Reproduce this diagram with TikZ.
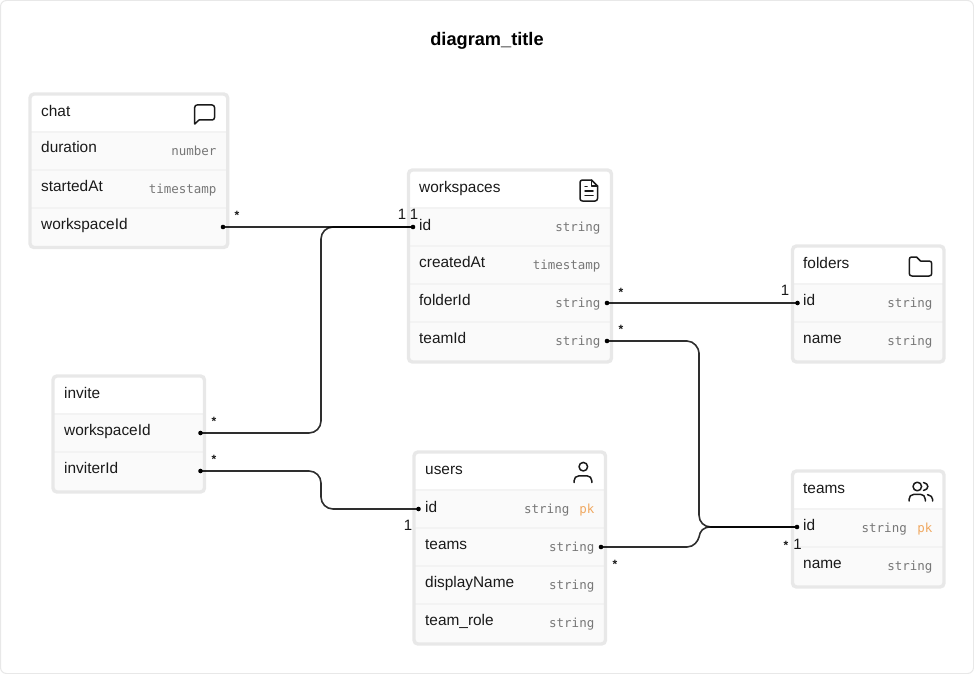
\documentclass[tikz,border=0pt]{standalone}
\usepackage{fontspec}
\setmainfont{Liberation Sans}
\newfontfamily\typefont{DejaVu Sans Mono}
\definecolor{frameC}{HTML}{E8E8E8}
\definecolor{rowC}{HTML}{FAFAFA}
\definecolor{sepC}{HTML}{F3F3F3}
\definecolor{typeC}{HTML}{777777}
\definecolor{pkC}{HTML}{F0A860}
\definecolor{inkC}{HTML}{1A1A1A}
\tikzset{
  ebox/.style={draw=frameC,line width=3.4pt,rounded corners=4pt,inner sep=0pt,fill=none},
  nametext/.style={anchor=base west,inner sep=0pt,font=\fontsize{15.4}{17}\selectfont,text=inkC},
  typetext/.style={anchor=base east,inner sep=0pt,font=\typefont\fontsize{12.5}{14}\selectfont,text=typeC},
  pktext/.style={typetext,text=pkC},
  titletext/.style={anchor=base,inner sep=0pt,font=\bfseries\fontsize{18.2}{20}\selectfont,text=black},
  cardone/.style={anchor=base,inner sep=0pt,font=\fontsize{15}{16}\selectfont,text=inkC},
  cardstar/.style={anchor=base,inner sep=0pt,font=\bfseries\fontsize{12}{14}\selectfont,text=inkC},
  port/.style={circle,fill=black,inner sep=0pt,minimum size=4.6pt},
  link/.style={draw=black,draw opacity=0.82,line width=1.6pt,rounded corners=12pt},
  iconline/.style={draw=inkC,line width=1.5pt,line cap=round,line join=round},
}
% name, x1, y1, x2, y2, header bottom, list of separators
\newcommand{\entitybox}[7]{%
  \fill[rowC,rounded corners=4pt] (#2,#3) rectangle (#4,#5);
  \fill[white] (#2,#3) rectangle (#4,#6);
  \foreach \sy in {#7}{\draw[sepC,line width=1.6pt] (#2,\sy) -- (#4,\sy);}
  \pgfmathsetmacro{\bw}{#4-#2}\pgfmathsetmacro{\bh}{#5-#3}
  \pgfmathsetmacro{\bx}{(#4+#2)/2}\pgfmathsetmacro{\by}{(#5+#3)/2}
  \node[ebox,minimum width=\bw pt,minimum height=\bh pt] (#1) at (\bx,\by) {};
}
% id, x, baseline, text
\newcommand{\nm}[4]{\node[nametext] (#1) at (#2,#3) {#4};}
\newcommand{\ty}[4]{\node[typetext] (#1) at (#2,#3) {#4};}
\begin{document}
\begin{tikzpicture}[x=1pt,y=-1pt]
\useasboundingbox (0,0) rectangle (974,674);
\fill[white] (0,0) rectangle (974,674);
\draw[frameC,line width=1pt,rounded corners=6pt] (0.5,0.5) rectangle (973.5,673.5);
\node[titletext] (title) at (487,46) {diagram\_title};

\entitybox{chat}{30}{94}{227.7}{247.5}{132}{132,170,208}
\entitybox{workspaces}{408.5}{170}{611.5}{362}{208}{208,246,284,322}
\entitybox{folders}{792.5}{246}{944}{362}{284}{284,322}
\entitybox{teams}{792.5}{471}{944}{587}{509}{509,547}
\entitybox{users}{414}{452}{605.5}{644}{490}{490,528,566,604}
\entitybox{invite}{53}{376}{204.5}{492}{414}{414,452}

% chat
\nm{chat-head}{41}{116.5}{chat}
\nm{chat-duration}{41}{153}{duration}\ty{chat-duration-t}{216.7}{155}{number}
\nm{chat-startedAt}{41}{191}{startedAt}\ty{chat-startedAt-t}{216.7}{193}{timestamp}
\nm{chat-workspaceId}{41}{229}{workspaceId}
% workspaces
\nm{ws-head}{419}{192}{workspaces}
\nm{ws-id}{419}{230}{id}\ty{ws-id-t}{600.7}{231.5}{string}
\nm{ws-createdAt}{419}{267}{createdAt}\ty{ws-createdAt-t}{600.7}{269.5}{timestamp}
\nm{ws-folderId}{419}{305}{folderId}\ty{ws-folderId-t}{600.7}{307.5}{string}
\nm{ws-teamId}{419}{343}{teamId}\ty{ws-teamId-t}{600.7}{345.5}{string}
% folders
\nm{fo-head}{803}{268}{folders}
\nm{fo-id}{803}{305}{id}\ty{fo-id-t}{932.7}{307.5}{string}
\nm{fo-name}{803}{343}{name}\ty{fo-name-t}{932.7}{345.5}{string}
% teams
\nm{te-head}{803}{493}{teams}
\nm{te-id}{803}{530}{id}\ty{te-id-t}{907}{532}{string}\node[pktext] (te-id-pk) at (932.7,532) {pk};
\nm{te-name}{803}{568}{name}\ty{te-name-t}{932.7}{570}{string}
% users
\nm{us-head}{425}{474}{users}
\nm{us-id}{425}{512}{id}\ty{us-id-t}{569.5}{513.5}{string}\node[pktext] (us-id-pk) at (594.5,513.5) {pk};
\nm{us-teams}{425}{549}{teams}\ty{us-teams-t}{594.5}{551.5}{string}
\nm{us-displayName}{425}{587}{displayName}\ty{us-displayName-t}{594.5}{589.5}{string}
\nm{us-team-role}{425}{625}{team\_role}\ty{us-team-role-t}{594.5}{627.5}{string}
% invite
\nm{in-head}{64}{398}{invite}
\nm{in-workspaceId}{64}{435}{workspaceId}
\nm{in-inviterId}{64}{473}{inviterId}

% ports
\node[port] (pChat) at (223,227) {};
\node[port] (pWsId) at (413,227) {};
\node[port] (pWsFolder) at (607,303) {};
\node[port] (pWsTeam) at (607,341) {};
\node[port] (pFoId) at (797.5,303) {};
\node[port] (pTeId) at (797,527) {};
\node[port] (pUsId) at (418.5,509) {};
\node[port] (pUsTeams) at (601,547) {};
\node[port] (pInWs) at (200.5,433) {};
\node[port] (pInInv) at (200.5,471) {};
\coordinate (spineL) at (321,330);
\coordinate (spineR) at (699,430);
\coordinate (join) at (711,527);
\coordinate (midS) at (699,537);

% connectors
\draw[link] (pChat.center) -- (pWsId.center);
\draw[link] (pInWs.center) -| (spineL) |- (pWsId.center);
\draw[link] (pInInv.center) -| (spineL |- pUsId) -- (pUsId.center);
\draw[link] (pWsFolder.center) -- (pFoId.center);
\draw[link,rounded corners=0pt] (pWsTeam.center) -- ([xshift=-12pt]spineR |- pWsTeam)
   .. controls ([xshift=-5pt]spineR |- pWsTeam) and ([yshift=-7pt]spineR |- pWsTeam) .. ([yshift=-12pt]spineR |- pWsTeam)
   -- ([yshift=12pt]spineR |- join)
   .. controls ([yshift=5pt]spineR |- join) and ([xshift=-7pt]join) .. (join) -- (pTeId.center);
\draw[link,rounded corners=0pt] (pUsTeams.center) -- ([xshift=-12pt]spineR |- pUsTeams)
   .. controls ([xshift=-5pt]spineR |- pUsTeams) and ([xshift=-1pt,yshift=-4pt]midS) .. (midS)
   .. controls ([xshift=1pt,yshift=6pt]midS) and ([xshift=-8pt]join) .. (join) -- (pTeId.center);

% cardinalities
\node[cardstar] (c1) at (237,219.5) {*};
\node[cardone] (c2) at (402,219) {1};
\node[cardone] (c3) at (414,219) {1};
\node[cardstar] (c4) at (214,425) {*};
\node[cardstar] (c5) at (214,463) {*};
\node[cardone] (c6) at (408,530) {1};
\node[cardstar] (c7) at (621,296) {*};
\node[cardstar] (c8) at (621,333) {*};
\node[cardone] (c9) at (785,295) {1};
\node[cardstar] (c10) at (615,568) {*};
\node[cardstar] (c11) at (786,549) {*};
\node[cardone] (c12) at (797.5,549) {1};

% icons
\draw[iconline] (197,105) -- (212,105) .. controls (213.5,105) and (214.5,106) .. (214.5,107.5)
  -- (214.5,117.5) .. controls (214.5,119) and (213.5,120) .. (212,120) -- (199,120) -- (194.7,124)
  -- (194.7,107.5) .. controls (194.7,106) and (195.7,105) .. (197,105) -- cycle;
\draw[iconline] (582.5,180) -- (591.5,180) -- (597.5,186) -- (597.5,198.5)
  .. controls (597.5,200) and (596.5,201) .. (595,201) -- (582.5,201)
  .. controls (581,201) and (580,200) .. (580,198.5) -- (580,182.5) .. controls (580,181) and (581,180) .. (582.5,180) -- cycle;
\draw[iconline] (591.5,180) -- (591.5,186) -- (597.5,186);
\draw[iconline] (585,186.5) -- (587,186.5) (585,191) -- (593,191) (585,195.5) -- (593,195.5);
\draw[iconline] (911.5,257) -- (916.5,257) -- (920.5,261) -- (929,261)
  .. controls (930.7,261) and (931.7,262) .. (931.7,263.5) -- (931.7,273.5)
  .. controls (931.7,275) and (930.7,276) .. (929,276) -- (912,276)
  .. controls (910.3,276) and (909.3,275) .. (909.3,273.5) -- (909.3,259.5)
  .. controls (909.3,258) and (910.3,257) .. (911.5,257) -- cycle;
\draw[iconline] (583.3,466.7) circle[radius=4.3pt];
\draw[iconline] (574,482.5) -- (574,481) .. controls (574,478) and (576,475.8) .. (579,475.8)
  -- (587,475.8) .. controls (590,475.8) and (591.8,478) .. (591.8,481) -- (591.8,482.5);
\draw[iconline] (917.3,486.5) circle[radius=4.3pt];
\draw[iconline] (909,501) -- (909,499.5) .. controls (909,496.5) and (911,494.3) .. (914,494.3)
  -- (920.5,494.3) .. controls (923.5,494.3) and (925.3,496.5) .. (925.3,499.5) -- (925.3,501);
\draw[iconline] (923.5,482.5) .. controls (926.5,483) and (927.8,484.8) .. (927.8,486.5) .. controls (927.8,488.2) and (926.5,490) .. (923.5,490.5);
\draw[iconline] (927.5,494.6) .. controls (930.5,495.2) and (932.7,497) .. (932.7,499.5) -- (932.7,501);
\end{tikzpicture}
\end{document}
